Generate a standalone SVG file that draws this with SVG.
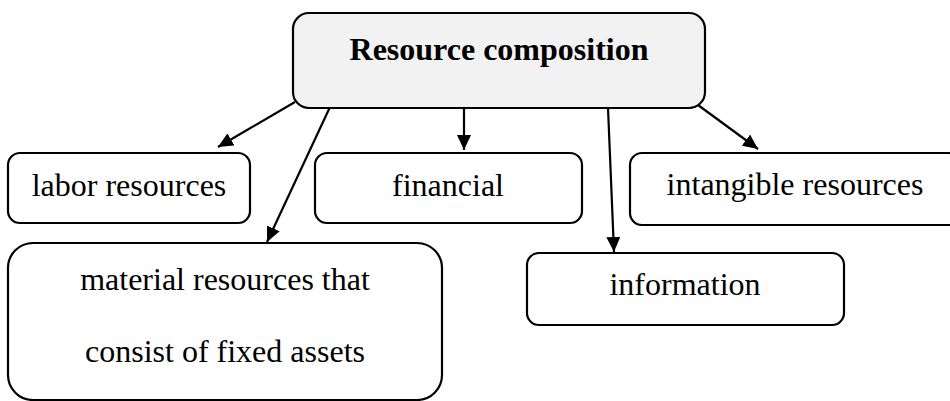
<svg xmlns="http://www.w3.org/2000/svg" width="950" height="401" viewBox="0 0 950 401">
<style>
.box{fill:#ffffff;stroke:#000000;stroke-width:2.2}
.top{fill:#f2f2f2;stroke:#000000;stroke-width:2.2}
.lbl{font-family:"Liberation Serif","Times New Roman",serif;font-size:32px;fill:#000000;text-anchor:middle}
.ttl{font-weight:bold}
.con{stroke:#000000;stroke-width:2.2;fill:none;marker-end:url(#ah)}
</style>
<defs>
<marker id="ah" markerUnits="userSpaceOnUse" markerWidth="16" markerHeight="14" refX="15" refY="7" orient="auto">
<path d="M0,0 L15,7 L0,14 z" fill="#000000"/>
</marker>
</defs>
<rect width="950" height="401" fill="#ffffff"/>
<g id="connectors">
<line class="con" x1="295" y1="102" x2="218" y2="147"/>
<line class="con" x1="330" y1="107" x2="267" y2="242"/>
<line class="con" x1="464" y1="108" x2="464" y2="150"/>
<line class="con" x1="608" y1="108" x2="614" y2="252"/>
<line class="con" x1="698" y1="105" x2="758" y2="149"/>
</g>
<g id="node-resource-composition">
<rect class="top" x="293" y="13" width="412" height="95" rx="16"/>
<text class="lbl ttl" x="499" y="60">Resource composition</text>
</g>
<g id="node-labor">
<rect class="box" x="8" y="153" width="242" height="70" rx="12"/>
<text class="lbl" x="129" y="196">labor resources</text>
</g>
<g id="node-financial">
<rect class="box" x="315" y="153" width="267" height="70" rx="12"/>
<text class="lbl" x="448" y="196">financial</text>
</g>
<g id="node-intangible">
<rect class="box" x="630" y="153" width="331" height="72" rx="12"/>
<text class="lbl" x="795" y="195">intangible resources</text>
</g>
<g id="node-material">
<rect class="box" x="8" y="243" width="434" height="157" rx="25"/>
<text class="lbl" x="225" y="290">material resources that</text>
<text class="lbl" x="225" y="362">consist of fixed assets</text>
</g>
<g id="node-information">
<rect class="box" x="527" y="253" width="317" height="72" rx="12"/>
<text class="lbl" x="685" y="295">information</text>
</g>
</svg>
